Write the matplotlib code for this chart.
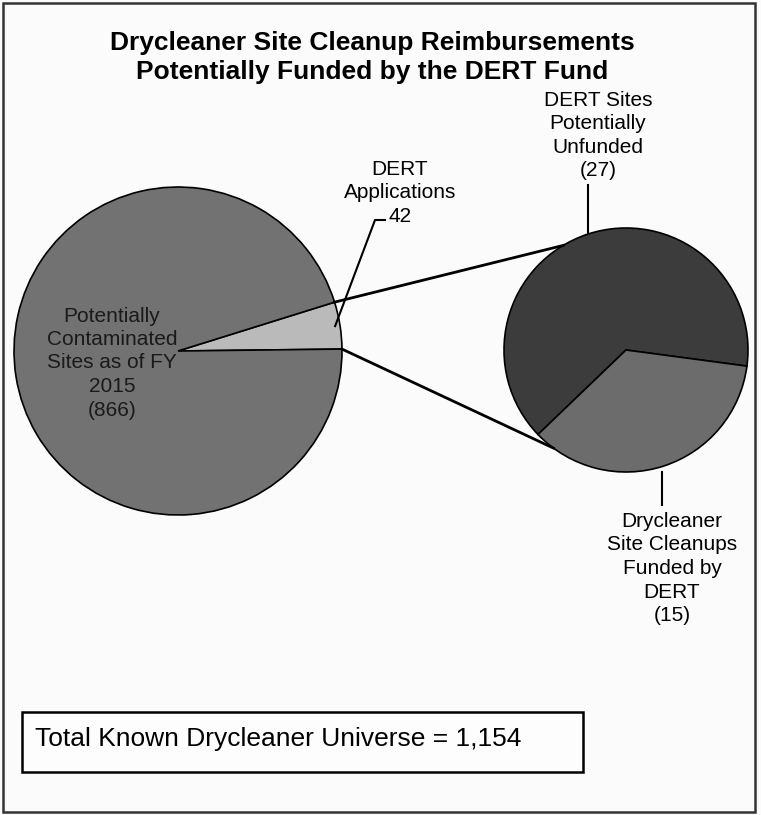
import matplotlib
matplotlib.use("Agg")
import matplotlib.pyplot as plt
from matplotlib.patches import Rectangle
import numpy as np

# ---- data ----
main_labels = ["DERT Applications", "Potentially Contaminated Sites as of FY 2015"]
main_values = [42, 866]
sub_labels = ["DERT Sites Potentially Unfunded", "Drycleaner Site Cleanups Funded by DERT"]
sub_values = [27, 15]
total_universe = "1,154"

title_lines = ["Drycleaner Site Cleanup Reimbursements",
               "Potentially Funded by the DERT Fund"]

W, H = 761, 815
fig = plt.figure(figsize=(W / 100, H / 100), dpi=100)
fig.patch.set_facecolor("#fbfbfb")
ax = fig.add_axes([0, 0, 1, 1])
ax.set_facecolor("#fbfbfb")

def Y(y):
    return H - y

FONT = "Liberation Sans"
c_main = "#727272"
c_light = "#bababa"
c_dark = "#3c3c3c"
c_sub = "#6c6c6c"

# left pie
lc = (178, Y(351))
lr = 164
light_span = main_values[0] / sum(main_values) * 360
w_left, _ = ax.pie(main_values, colors=[c_light, c_main], startangle=9 - light_span / 2,
                   center=lc, radius=lr, counterclock=True,
                   wedgeprops=dict(edgecolor="black", linewidth=1.2))

# right pie
rc = (626, Y(350))
rr = 122
w_right, _ = ax.pie(sub_values, colors=[c_dark, c_sub], startangle=-7.6,
                    center=rc, radius=rr, counterclock=True,
                    wedgeprops=dict(edgecolor="black", linewidth=1.2))

# connector lines
def pt(c, r, ang):
    a = np.deg2rad(ang)
    return c[0] + r * np.cos(a), c[1] + r * np.sin(a)

t1, t2 = w_left[0].theta1, w_left[0].theta2
p1 = pt(lc, lr, t2); q1 = pt(rc, rr, 121)
p2 = pt(lc, lr, t1); q2 = pt(rc, rr, 233.5)
ax.plot([p1[0], q1[0]], [p1[1], q1[1]], color="black", lw=2, zorder=1)
ax.plot([p2[0], q2[0]], [p2[1], q2[1]], color="black", lw=2, zorder=1)

# title
ax.text(372, Y(43), title_lines[0], ha="center", va="center", fontsize=19,
        fontweight="bold", family=FONT, color="black")
ax.text(372, Y(72), title_lines[1], ha="center", va="center", fontsize=19,
        fontweight="bold", family=FONT, color="black")

lab_kw = dict(ha="center", va="center", fontsize=15, family=FONT, color="black",
              linespacing=1.3)

ax.text(112, Y(363), "Potentially\nContaminated\nSites as of FY\n2015\n(%d)" % main_values[1],
        **{**lab_kw, "color": "#1a1a1a"})
ax.text(400, Y(193), "DERT\nApplications\n%d" % main_values[0], **lab_kw)
ax.text(598, Y(135.5), "DERT Sites\nPotentially\nUnfunded\n(%d)" % sub_values[0], **lab_kw)
ax.text(672, Y(568.5), "Drycleaner\nSite Cleanups\nFunded by\nDERT\n(%d)" % sub_values[1], **lab_kw)

# leader lines
lead_end = pt(lc, lr * 0.97, (t1 + t2) / 2)
ax.plot([385, 375, lead_end[0]], [Y(220), Y(220), lead_end[1]], color="black", lw=1.5, zorder=3)
ax.plot([588, 588], [Y(185), Y(233)], color="black", lw=1.5, zorder=0.5)
ax.plot([662, 662], [Y(472), Y(505)], color="black", lw=1.5, zorder=0.5)

# total box
ax.add_patch(Rectangle((22, Y(772)), 561, 60, facecolor="#fdfdfd", edgecolor="black", lw=1.8))
ax.text(35, Y(739), "Total Known Drycleaner Universe = " + total_universe, ha="left", va="center",
        fontsize=19, family=FONT, color="black")

# outer frame
ax.add_patch(Rectangle((3, Y(812)), 752, 809, facecolor="none", edgecolor="#333333", lw=1.8))

ax.set_xlim(0, W)
ax.set_ylim(0, H)
ax.set_aspect("auto")
ax.axis("off")

fig.savefig("out.png", dpi=100, facecolor=fig.get_facecolor())
